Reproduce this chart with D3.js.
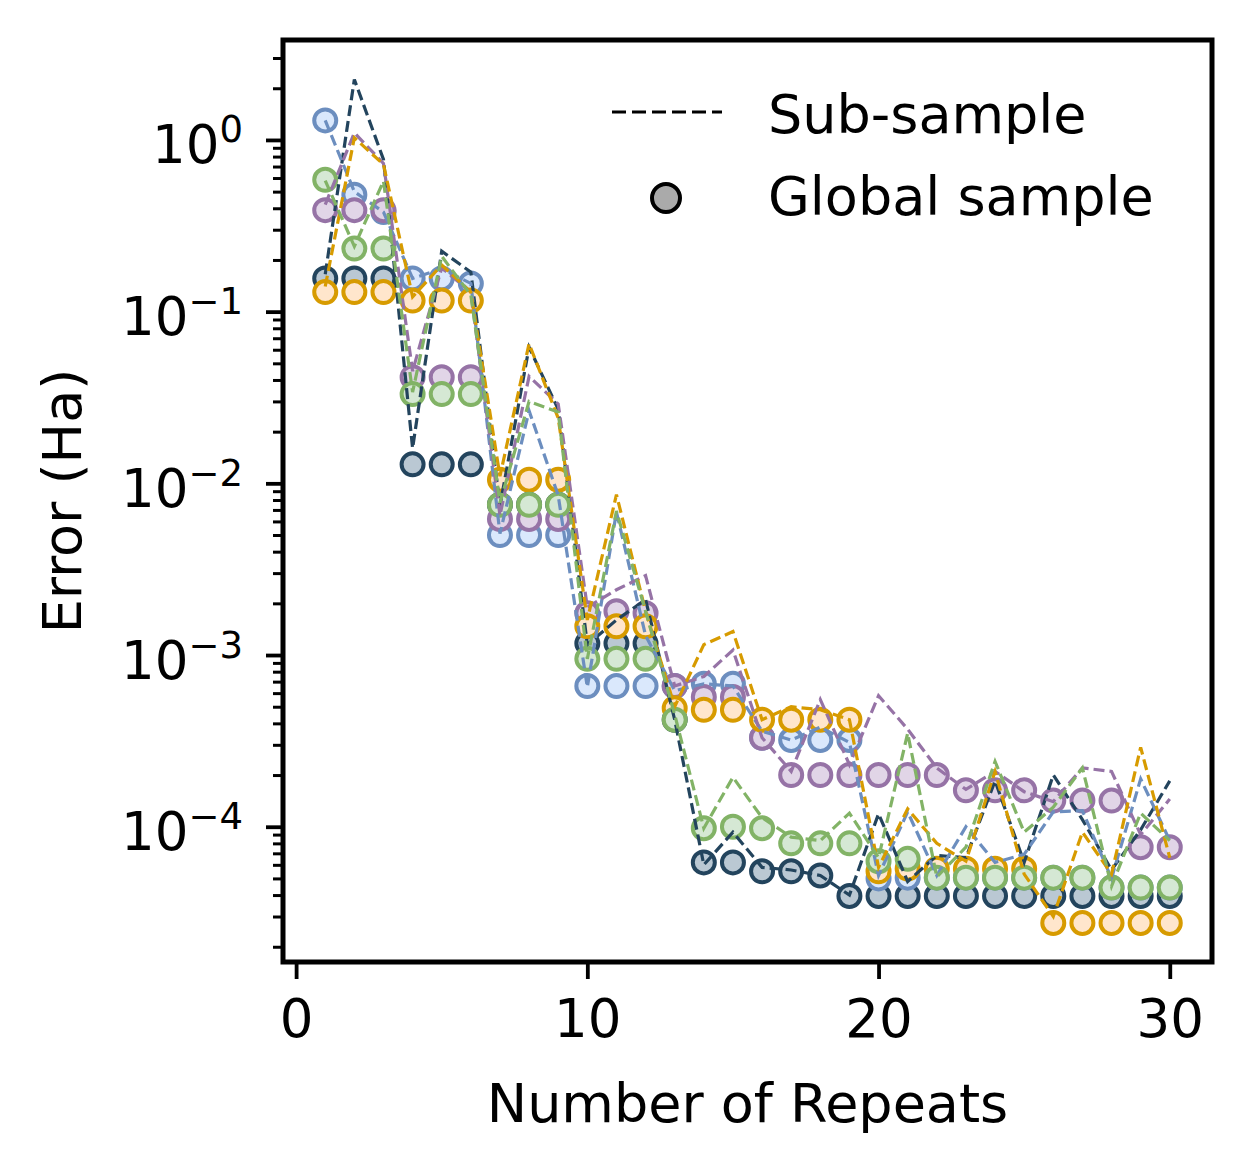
<!DOCTYPE html>
<html>
<head>
<meta charset="utf-8">
<script src="https://cdn.jsdelivr.net/npm/d3@7"></script>
<style>
  body { margin: 0; background: #fff; }
  text { font-family: "DejaVu Sans", sans-serif; fill: #000; }
</style>
</head>
<body>
<script>
// number of repeats on the x axis
var repeats = [1, 2, 3, 4, 5, 6, 7, 8, 9, 10, 11, 12, 13, 14, 15,
  16, 17, 18, 19, 20, 21, 22, 23, 24, 25, 26, 27, 28, 29, 30];

// dashed lines: sub-sample error (Ha)
var navySub = [0.165, 2.25, 0.77, 0.016, 0.225, 0.17, 0.0074, 0.062, 0.027, 0.00115,
  0.0016, 0.0021, 0.00042, 6.0e-5, 9.3e-5, 5.8e-5, 5.6e-5, 5.2e-5, 4.0e-5, 1.19e-4,
  4.8e-5, 6.8e-5, 6.6e-5, 1.85e-4, 6.2e-5, 2.0e-4, 1.1e-4, 5.6e-5, 9.6e-5, 1.85e-4];
var blueSub = [1.3, 0.50, 0.38, 0.156, 0.178, 0.146, 0.0051, 0.0265, 0.0085, 0.00065,
  0.0068, 0.0013, 0.00062, 0.00068, 0.00066, 0.00036, 0.00032, 0.00038, 0.00031, 5.2e-5,
  1.22e-4, 5.2e-5, 1.0e-4, 6.2e-5, 6.9e-5, 1.22e-4, 1.24e-4, 5.0e-5, 1.9e-4, 8.3e-5];
var purpleSub = [0.42, 1.10, 0.73, 0.045, 0.18, 0.13, 0.0065, 0.042, 0.029, 0.0019,
  0.0024, 0.0029, 0.00066, 0.00075, 0.00107, 0.00033, 0.00021, 0.00055, 0.00023, 0.00058,
  0.00037, 0.00022, 0.000165, 0.00021, 0.00016, 0.00014, 0.00022, 0.00021, 9.0e-5, 0.000145];
var orangeSub = [0.14, 1.03, 0.72, 0.122, 0.187, 0.13, 0.011, 0.065, 0.024, 0.0016,
  0.0086, 0.0018, 0.0005, 0.00115, 0.00137, 0.00042, 0.0005, 0.00048, 0.00042, 5.8e-5,
  1.27e-4, 8.0e-5, 6.3e-5, 2.1e-4, 5.3e-5, 3.0e-5, 9.3e-5, 5.3e-5, 2.9e-4, 6.6e-5];
var greenSub = [0.58, 0.24, 0.575, 0.034, 0.21, 0.125, 0.0077, 0.03, 0.026, 0.00095,
  0.0069, 0.0018, 0.00045, 9.8e-5, 1.94e-4, 1.13e-4, 8.7e-5, 8.3e-5, 1.2e-4, 6.6e-5,
  3.5e-4, 5.1e-5, 7.6e-5, 2.4e-4, 9.3e-5, 1.3e-4, 2.2e-4, 4.5e-5, 1.2e-4, 8.3e-5];

// circles: global sample error (Ha)
var navyGlobal = [0.156, 0.156, 0.156, 0.0129, 0.0129, 0.0129, 0.0075, 0.0075, 0.0075, 0.00117,
  0.00117, 0.00117, 0.00042, 6.2e-5, 6.2e-5, 5.5e-5, 5.5e-5, 5.2e-5, 3.95e-5, 3.95e-5,
  3.95e-5, 3.95e-5, 3.95e-5, 3.95e-5, 3.95e-5, 3.95e-5, 3.95e-5, 3.95e-5, 3.95e-5, 3.95e-5];
var blueGlobal = [1.3, 0.48, 0.38, 0.156, 0.156, 0.146, 0.005, 0.005, 0.005, 0.00066,
  0.00066, 0.00066, 0.00066, 0.00068, 0.00068, 0.00033, 0.00032, 0.00032, 0.00032, 5.0e-5,
  5.05e-5, 5.05e-5, 5.05e-5, 5.05e-5, 5.05e-5, 5.05e-5, 5.05e-5, 4.42e-5, 4.42e-5, 4.42e-5];
var purpleGlobal = [0.39, 0.39, 0.39, 0.0415, 0.0415, 0.0415, 0.0062, 0.0062, 0.0062, 0.00175,
  0.0018, 0.00175, 0.00066, 0.00057, 0.00057, 0.00033, 0.0002, 0.0002, 0.0002, 0.0002,
  0.0002, 0.0002, 0.000163, 0.000163, 0.000163, 0.000142, 0.000142, 0.000142, 7.6e-5, 7.6e-5];
var orangeGlobal = [0.13, 0.13, 0.13, 0.116, 0.116, 0.116, 0.0105, 0.0105, 0.0105, 0.00147,
  0.00147, 0.00147, 0.00049, 0.00048, 0.00048, 0.00042, 0.00042, 0.00042, 0.00042, 5.5e-5,
  5.7e-5, 5.7e-5, 5.7e-5, 5.7e-5, 5.7e-5, 2.75e-5, 2.75e-5, 2.75e-5, 2.75e-5, 2.75e-5];
var greenGlobal = [0.586, 0.233, 0.233, 0.0331, 0.0331, 0.0331, 0.0075, 0.0075, 0.0075, 0.00095,
  0.00095, 0.00095, 0.00042, 9.8e-5, 1.0e-4, 9.8e-5, 8.0e-5, 8.0e-5, 8.0e-5, 6.3e-5,
  6.5e-5, 5.05e-5, 5.05e-5, 5.05e-5, 5.05e-5, 5.05e-5, 5.05e-5, 4.42e-5, 4.42e-5, 4.42e-5];

var xTicks = [0, 10, 20, 30];
var yTickExponents = [0, -1, -2, -3, -4];
var legendLabels = ['Sub-sample', 'Global sample'];

// draw order as in the original: navy, blue, purple, orange, green
var series = [
  { sub: navySub, glob: navyGlobal, stroke: '#23445d', fill: '#bac8d3' },
  { sub: blueSub, glob: blueGlobal, stroke: '#6c8ebf', fill: '#dae8fc' },
  { sub: purpleSub, glob: purpleGlobal, stroke: '#9673a6', fill: '#e1d5e7' },
  { sub: orangeSub, glob: orangeGlobal, stroke: '#d79b00', fill: '#ffe6cc' },
  { sub: greenSub, glob: greenGlobal, stroke: '#82b366', fill: '#d5e8d4' }
];

var W = 1253, H = 1173;
var svg = d3.select('body').append('svg')
  .attr('width', W)
  .attr('height', H);

var margin = { top: 40, right: 41, bottom: 211, left: 283 },
  width = W - margin.left - margin.right,
  height = H - margin.top - margin.bottom;

var g = svg.append('g')
  .attr('transform', 'translate(' + margin.left + ',' + margin.top + ')');

var x = d3.scaleLinear()
  .domain([-0.45, 31.45])
  .range([0, width]);

var y = d3.scaleLog()
  .domain([1.63e-5, 3.82])
  .range([height, 0]);

// circles first (lines sit above the scatter)
series.forEach(function (s) {
  g.append('g')
    .selectAll('circle')
    .data(s.glob)
    .enter().append('circle')
    .attr('cx', function (d, i) { return x(repeats[i]); })
    .attr('cy', function (d) { return y(d); })
    .attr('r', 11)
    .attr('fill', s.fill)
    .attr('stroke', s.stroke)
    .attr('stroke-width', 4);
});

var line = d3.line()
  .x(function (d, i) { return x(repeats[i]); })
  .y(function (d) { return y(d); });

series.forEach(function (s) {
  g.append('path')
    .attr('d', line(s.sub))
    .attr('fill', 'none')
    .attr('stroke', s.stroke)
    .attr('stroke-width', 3.2)
    .attr('stroke-dasharray', '11,5');
});

// x axis
var xAxis = g.append('g')
  .attr('transform', 'translate(0,' + height + ')')
  .call(d3.axisBottom(x).tickValues(xTicks).tickSize(17).tickPadding(20).tickFormat(d3.format('d')));
xAxis.select('.domain').remove();
xAxis.selectAll('line').attr('stroke', '#000').attr('stroke-width', 3.8);
xAxis.selectAll('text')
  .attr('font-size', 53)
  .attr('font-family', 'DejaVu Sans');

// y axis: minor ticks
var minor = [];
for (var e = -5; e <= 0; e++) {
  for (var k = 2; k <= 9; k++) {
    var v = k * Math.pow(10, e);
    if (v > y.domain()[0] && v < y.domain()[1]) minor.push(v);
  }
}
var yMinor = g.append('g')
  .call(d3.axisLeft(y).tickValues(minor).tickSize(10).tickFormat(''));
yMinor.select('.domain').remove();
yMinor.selectAll('line').attr('stroke', '#000').attr('stroke-width', 3);

// y axis: major ticks with 10^n labels
var majors = yTickExponents.map(function (p) { return Math.pow(10, p); });
var yMajor = g.append('g')
  .call(d3.axisLeft(y).tickValues(majors).tickSize(17).tickFormat(''));
yMajor.select('.domain').remove();
yMajor.selectAll('line').attr('stroke', '#000').attr('stroke-width', 3.8);

yMajor.selectAll('.tick').each(function (d) {
  var p = Math.round(Math.log10(d));
  var t = d3.select(this).append('text')
    .attr('x', -40)
    .attr('y', 23)
    .attr('text-anchor', 'end')
    .attr('font-size', 53)
    .attr('font-family', 'DejaVu Sans')
    .attr('fill', '#000');
  t.append('tspan').text('10');
  t.append('tspan')
    .attr('dy', -21)
    .attr('font-size', 37)
    .text(p < 0 ? '\u2212' + (-p) : String(p));
});

// frame
g.append('rect')
  .attr('width', width)
  .attr('height', height)
  .attr('fill', 'none')
  .attr('stroke', '#000')
  .attr('stroke-width', 5);

// axis labels
svg.append('text')
  .attr('x', margin.left + width / 2)
  .attr('y', 1122)
  .attr('text-anchor', 'middle')
  .attr('font-size', 54)
  .text('Number of Repeats');

svg.append('text')
  .attr('transform', 'translate(81,' + (margin.top + height / 2) + ') rotate(-90)')
  .attr('text-anchor', 'middle')
  .attr('font-size', 54)
  .text('Error (Ha)');

// legend (no frame)
var legend = svg.append('g');
legend.append('line')
  .attr('x1', 612).attr('x2', 722)
  .attr('y1', 112).attr('y2', 112)
  .attr('stroke', '#000')
  .attr('stroke-width', 3.2)
  .attr('stroke-dasharray', '14,6');
legend.append('circle')
  .attr('cx', 666).attr('cy', 198)
  .attr('r', 14)
  .attr('fill', '#aaaaaa')
  .attr('stroke', '#000')
  .attr('stroke-width', 4);
legend.selectAll('text.lab')
  .data(legendLabels)
  .enter().append('text')
  .attr('class', 'lab')
  .attr('x', 768)
  .attr('y', function (d, i) { return 133 + i * 82; })
  .attr('font-size', 54)
  .text(function (d) { return d; });
</script>
</body>
</html>
